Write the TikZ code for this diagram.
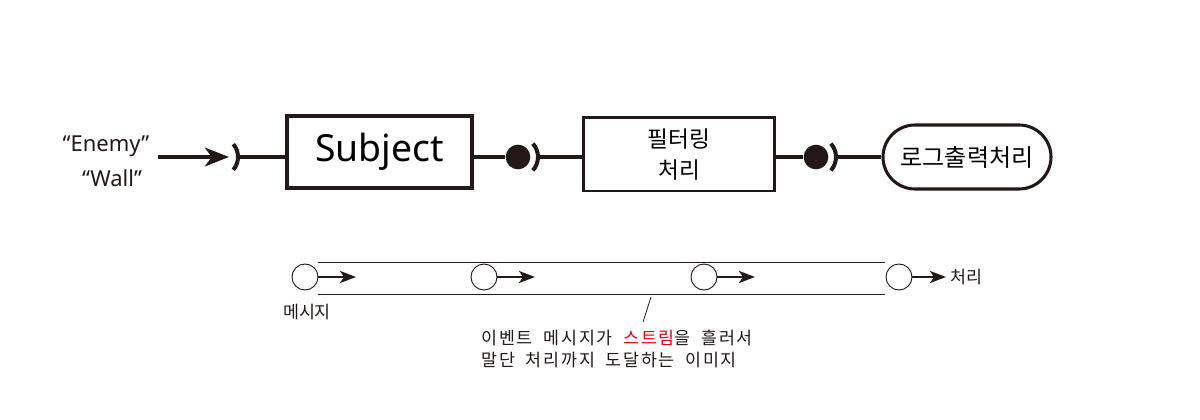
\documentclass[tikz,border=0pt]{standalone}
\usepackage{fontspec}
\setmainfont{Noto Sans CJK KR}
\newfontfamily\latinfont{Noto Sans}
\usetikzlibrary{arrows.meta}
\definecolor{ink}{RGB}{35,24,21}
\definecolor{hot}{RGB}{230,0,18}
\tikzset{
  wire/.style={draw=ink,line width=2.8pt},
  boxA/.style={draw=ink,line width=3pt,minimum width=139pt,minimum height=54pt,inner sep=0pt},
  boxB/.style={draw=ink,line width=2pt,minimum width=143pt,minimum height=55pt,inner sep=0pt,align=center},
  pill/.style={draw=ink,line width=2.3pt,rounded corners=24pt,minimum width=126pt,minimum height=48pt,inner sep=0pt},
  ball/.style={circle,fill=ink,minimum size=18.5pt,inner sep=0pt},
  sock/.style={draw=ink,line width=3pt},
  msg/.style={circle,draw=ink,line width=0.7pt,fill=white,minimum size=19.5pt,inner sep=0pt},
  flow/.style={draw=ink,line width=1.7pt,-{Stealth[length=12pt,width=9pt,inset=3pt]}},
  rail/.style={draw=ink,line width=0.6pt},
  lbl/.style={inner sep=0pt,text=ink},
}
\newcommand\gap{\hspace{0.6em}}
\begin{document}
\begin{tikzpicture}[x=0.75pt,y=-0.75pt]
\useasboundingbox (0,0) rectangle (1200,420);
% input text
\node[lbl,font=\latinfont\fontsize{16.5}{19}\selectfont] (enemy) at (106,146) {“Enemy”};
\node[lbl,font=\latinfont\fontsize{16.5}{19}\selectfont] (wall) at (112,178) {“Wall”};
\coordinate (inA) at (158,157);
\coordinate (inB) at (229,157);
\draw[wire,-{Stealth[length=18pt,width=14pt,inset=5pt]}] (inA) -- (inB);
% socket 1
\coordinate (s1) at (218,157);
\draw[sock] ([shift={(-40:15pt)}]s1) arc[start angle=-40,end angle=40,radius=15pt];
\coordinate (s1r) at (239,157);
% subject
\node[boxA,font=\latinfont\fontsize{28}{32}\selectfont] (subj) at (379.5,152) {Subject};
\draw[wire] (s1r) -- (subj.west |- s1r);
% ball 1
\node[ball] (b1) at (518,157) {};
\draw[wire] (subj.east |- b1) -- (b1);
\draw[sock] ([shift={(-42:15pt)}]b1.center) arc[start angle=-42,end angle=42,radius=15pt];
\coordinate (s2r) at (540,157);
% filter
\node[boxB,font=\fontsize{17}{23}\selectfont] (filt) at (679,154.5) {필터링\\처리};
\draw[wire] (s2r) -- (filt.west |- s2r);
% ball 2
\node[ball] (b2) at (816,157) {};
\draw[wire] (filt.east |- b2) -- (b2);
\draw[sock] ([shift={(-42:15pt)}]b2.center) arc[start angle=-42,end angle=42,radius=15pt];
\coordinate (s3r) at (838,157);
% pill
\node[pill,font=\fontsize{18}{21}\selectfont] (log) at (967,157) {로그출력처리};
\draw[wire] (s3r) -- (log.west);
% stream rails
\coordinate (r1a) at (318,262); \coordinate (r1b) at (885,262);
\coordinate (r2a) at (318,294); \coordinate (r2b) at (885,294);
\draw[rail] (r1a) -- (r1b);
\draw[rail] (r2a) -- (r2b);
% messages
\node[msg] (m1) at (305,277) {};
\node[msg] (m2) at (484,277) {};
\node[msg] (m3) at (704,277) {};
\node[msg] (m4) at (899,277) {};
\coordinate (a1) at (356,277);
\coordinate (a2) at (535,277);
\coordinate (a3) at (755,277);
\coordinate (a4) at (946,277);
\draw[flow] (m1) -- (a1);
\draw[flow] (m2) -- (a2);
\draw[flow] (m3) -- (a3);
\draw[flow] (m4) -- (a4);
\node[lbl,font=\fontsize{13}{15}\selectfont,anchor=west] (end) at (950,277) {처리};
\node[lbl,font=\fontsize{13}{15}\selectfont] (msgl) at (307,312) {메시지};
% caption
\coordinate (lead1) at (651,297);
\coordinate (lead2) at (643,322);
\draw[ink,line width=0.6pt] (lead1) -- (lead2);
\node[lbl,font=\fontsize{13}{16.5}\selectfont\addfontfeatures{LetterSpace=11},anchor=north west,align=left] (cap) at (481,329.5)
 {이벤트\gap 메시지가\gap\textcolor{hot}{스트림}을\gap 흘러서\\말단\gap 처리까지\gap 도달하는\gap 이미지};
\end{tikzpicture}
\end{document}
